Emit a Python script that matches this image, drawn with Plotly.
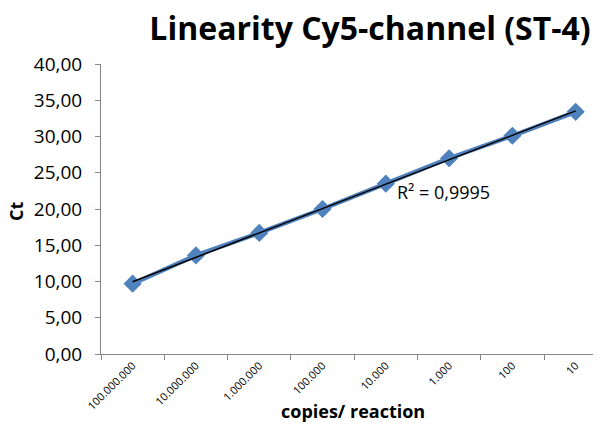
import numpy as np
import plotly.graph_objects as go

categories = ["100.000.000", "10.000.000", "1.000.000", "100.000", "10.000", "1.000", "100", "10"]
ct_values = [9.7, 13.6, 16.7, 20.0, 23.5, 27.0, 30.1, 33.4]
r2_text = "R² = 0,9995"
title_text = "<b>Linearity Cy5-channel (ST-4)</b>"

idx = np.arange(len(categories))
slope, intercept = np.polyfit(idx, ct_values, 1)
fit = slope * idx + intercept

FONT = "Open Sans"
fig = go.Figure()
fig.add_trace(go.Scatter(
    x=categories, y=ct_values, mode="lines+markers",
    line=dict(color="#4F81BD", width=4.5),
    marker=dict(symbol="diamond", size=14, color="#4F81BD"),
    showlegend=False, hoverinfo="skip"))
fig.add_trace(go.Scatter(
    x=categories, y=fit, mode="lines",
    line=dict(color="black", width=1.5),
    showlegend=False, hoverinfo="skip"))

fig.update_layout(
    width=601, height=424,
    margin=dict(l=93, r=8, t=56, b=78, autoexpand=False),
    paper_bgcolor="white", plot_bgcolor="white",
    separators=",.",
    font=dict(family=FONT, color="black"),
    title=dict(text=title_text, x=362/601, xanchor="center", y=1 - 21/424, yanchor="middle",
               font=dict(family=FONT, size=32, color="black")),
    annotations=[
        dict(text=r2_text, x=4.14, y=22.4, xref="x", yref="y",
             xanchor="left", yanchor="middle", showarrow=False,
             font=dict(family=FONT, size=18, color="black")),
        dict(text="<b>copies/ reaction</b>", x=0.504, y=-0.197, xref="paper", yref="paper",
             xanchor="center", yanchor="middle", showarrow=False,
             font=dict(family=FONT, size=18, color="black")),
        dict(text="<b>Ct</b>", x=-0.17, y=0.49, xref="paper", yref="paper",
             xanchor="center", yanchor="middle", showarrow=False, textangle=-90,
             font=dict(family=FONT, size=18, color="black")),
    ],
)
fig.update_xaxes(
    type="category", range=[-0.5, 7.4], tickson="boundaries", automargin=False,
    showline=True, linecolor="#868686", linewidth=1,
    ticks="outside", ticklen=5, tickcolor="#868686",
    tickangle=-45, tickfont=dict(family=FONT, size=11, color="black"),
    showgrid=False, zeroline=False,
)
fig.update_yaxes(
    range=[0, 40], dtick=5, tickformat=".2f", automargin=False,
    showline=True, linecolor="#868686", linewidth=1,
    ticks="outside", ticklen=5, tickcolor="#868686", ticklabelstandoff=9,
    tickfont=dict(family=FONT, size=19, color="black"),
    showgrid=False, zeroline=False,
)
fig.write_html("out.html")
